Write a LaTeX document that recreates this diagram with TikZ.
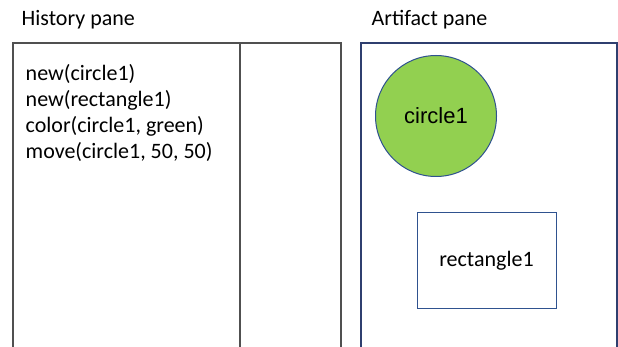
\documentclass[tikz,border=0pt]{standalone}
\usepackage{fontspec}
\setmainfont{Carlito}
\newfontfamily\arialfont{Liberation Sans}
\definecolor{paneGray}{HTML}{505050}
\definecolor{paneBlue}{HTML}{2F3F6F}
\definecolor{shapeBlue}{HTML}{2F528F}
\definecolor{leafGreen}{HTML}{92D050}
\begin{document}
\begin{tikzpicture}[x=1pt,y=-1pt,
  pane/.style={line width=1.3pt},
  txt/.style={font=\fontsize{22}{26}\selectfont, anchor=base west, inner sep=0pt}]
\useasboundingbox (0,0) rectangle (618,347);
\fill[white] (0,0) rectangle (618,347);
% History pane
\node[txt] (hlabel) at (21.5,25.7) {History pane};
\draw[pane, paneGray] (13,348) -- (13,43) -- (341,43) -- (341,348);
\draw[pane, paneGray] (240,43) -- (240,348);
\node[txt] (cmd1) at (25.5,80.7) {new(circle1)};
\node[txt] (cmd2) at (25.5,106.6) {new(rectangle1)};
\node[txt] (cmd3) at (25.5,132.5) {color(circle1, green)};
\node[txt] (cmd4) at (25.5,158.4) {move(circle1, 50, 50)};
% Artifact pane
\node[txt] (alabel) at (371.5,25.7) {Artifact pane};
\draw[pane, paneBlue] (361,348) -- (361,43) -- (617,43) -- (617,348);
\node[circle, draw=shapeBlue, line width=1pt, fill=leafGreen, minimum size=121pt, inner sep=0pt,
      font=\arialfont\fontsize{22}{24}\selectfont] (c1) at (436,116) {circle1};
\node[rectangle, draw=shapeBlue, line width=1pt, minimum width=139pt, minimum height=95pt, inner sep=0pt,
      font=\fontsize{22}{26}\selectfont] (r1) at (486.5,260.5) {rectangle1};
\end{tikzpicture}
\end{document}
